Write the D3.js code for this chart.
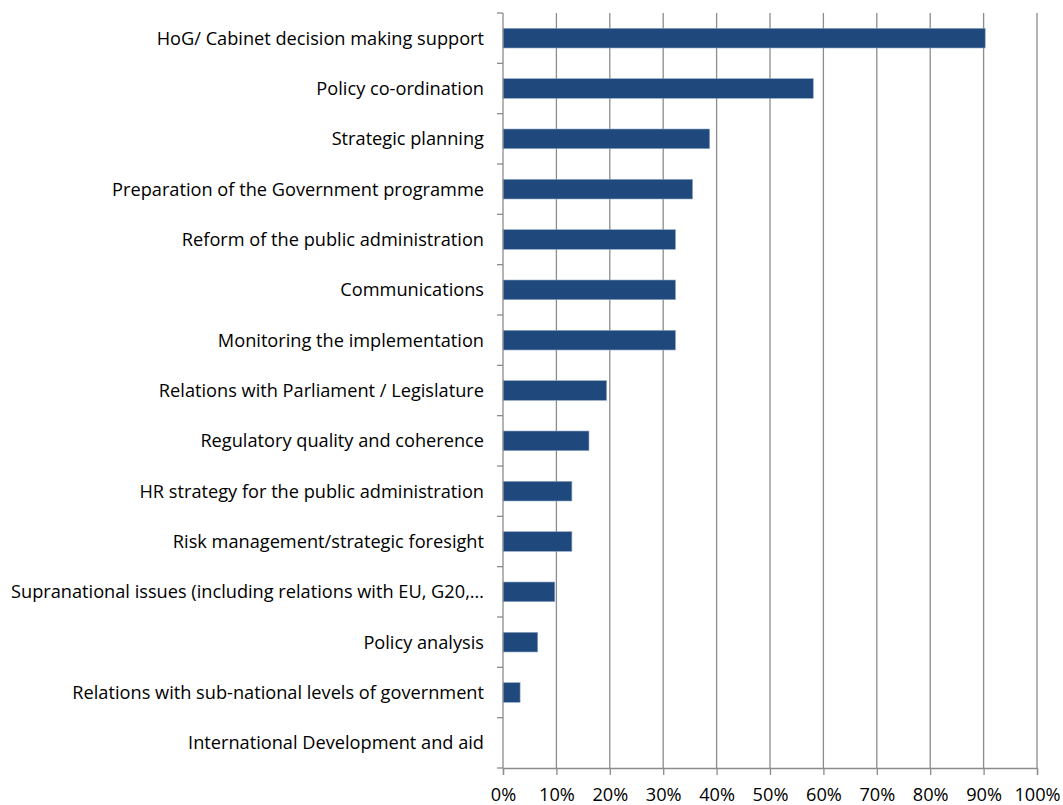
<!DOCTYPE html>
<html>
<head>
<meta charset="utf-8">
<script src="https://cdn.jsdelivr.net/npm/d3@7"></script>
<style>
  body { margin: 0; background: #fff; }
  text { font-family: "Open Sans", sans-serif; fill: #000; }
</style>
</head>
<body>
<div id="holder"></div>
<script>
// functions of the centre of government, share of respondents
var categories = [
  "HoG/ Cabinet decision making support",
  "Policy co-ordination",
  "Strategic planning",
  "Preparation of the Government programme",
  "Reform of the public administration",
  "Communications",
  "Monitoring the implementation",
  "Relations with Parliament / Legislature",
  "Regulatory quality and coherence",
  "HR strategy for the public administration",
  "Risk management/strategic foresight",
  "Supranational issues (including relations with EU, G20,\u2026",
  "Policy analysis",
  "Relations with sub-national levels of government",
  "International Development and aid"
];
var values = [0.903, 0.581, 0.387, 0.355, 0.323, 0.323, 0.323, 0.194, 0.161, 0.129, 0.129, 0.097, 0.065, 0.032, 0];
var xTicks = [0, 0.1, 0.2, 0.3, 0.4, 0.5, 0.6, 0.7, 0.8, 0.9, 1];

var fullWidth = 1063;
var fullHeight = 805;
var margin = {top: 13, right: 26, bottom: 37, left: 503};
var width = fullWidth - margin.left - margin.right;
var height = fullHeight - margin.top - margin.bottom;

var svg = d3.select('#holder').append('svg')
  .attr('width', fullWidth)
  .attr('height', fullHeight)
  .append('g')
    .attr('transform', 'translate(' + margin.left + ',' + margin.top + ')');

var xScale = d3.scaleLinear().domain([0, 1]).range([0, width]);
var yScale = d3.scaleBand().domain(categories).range([0, height]).paddingInner(0.61).paddingOuter(0.305);
var edges = d3.scaleLinear().domain([0, categories.length]).range([0, height]);

// gridlines
svg.append('g')
  .selectAll('line')
  .data(xTicks.slice(1))
  .enter().append('line')
  .attr('x1', function(d) { return xScale(d); })
  .attr('x2', function(d) { return xScale(d); })
  .attr('y1', 0)
  .attr('y2', height)
  .style('stroke', '#8c8c8c')
  .style('stroke-width', 1.3);

// bars
svg.append('g')
  .selectAll('rect')
  .data(values)
  .enter().append('rect')
  .attr('x', 0)
  .attr('y', function(d, i) { return yScale(categories[i]); })
  .attr('width', function(d) { return xScale(d); })
  .attr('height', yScale.bandwidth())
  .style('fill', '#1f497d')
  .style('stroke', function(d) { return d > 0 ? '#8ea5c4' : 'none'; })
  .style('stroke-width', 0.6);

// y axis: line, ticks between categories, labels
var yAxis = svg.append('g');
yAxis.append('line')
  .attr('x1', 0).attr('x2', 0).attr('y1', 0).attr('y2', height)
  .style('stroke', '#8c8c8c').style('stroke-width', 1.3);
yAxis.selectAll('.ytick')
  .data(d3.range(categories.length + 1))
  .enter().append('line')
  .attr('class', 'ytick')
  .attr('x1', -6).attr('x2', 0)
  .attr('y1', function(d) { return edges(d); })
  .attr('y2', function(d) { return edges(d); })
  .style('stroke', '#8c8c8c').style('stroke-width', 1.3);
yAxis.selectAll('.ylabel')
  .data(categories)
  .enter().append('text')
  .attr('class', 'ylabel')
  .attr('x', -19)
  .attr('y', function(d) { return yScale(d) + yScale.bandwidth() / 2; })
  .attr('dy', '0.35em')
  .attr('text-anchor', 'end')
  .style('font-size', '18.2px')
  .text(function(d) { return d; });

// x axis
var x_axis = d3.axisBottom(xScale)
  .tickValues(xTicks)
  .tickSize(7)
  .tickPadding(13)
  .tickFormat(d3.format('.0%'));
var gx = svg.append('g')
  .attr('transform', 'translate(0,' + height + ')')
  .call(x_axis);
gx.select('.domain').style('stroke', '#8c8c8c').style('stroke-width', 1.3);
gx.selectAll('.tick line').style('stroke', '#8c8c8c').style('stroke-width', 1.3);
gx.selectAll('.tick text').style('font-size', '18.2px').style('font-family', '"Open Sans", sans-serif');
</script>
</body>
</html>
